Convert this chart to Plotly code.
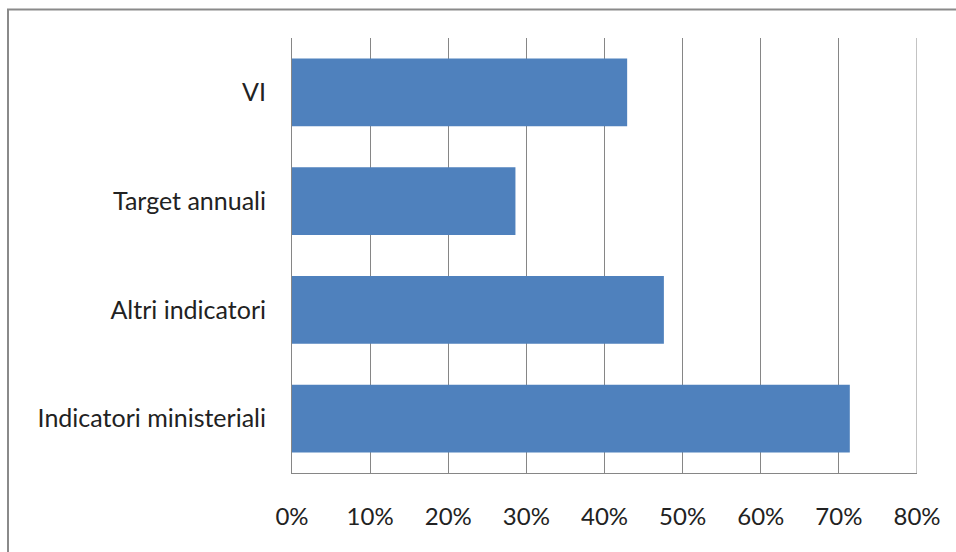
import plotly.graph_objects as go

categories = ["Indicatori ministeriali", "Altri indicatori", "Target annuali", "VI"]
values = [0.714, 0.476, 0.286, 0.429]
tick_vals = [0, 0.1, 0.2, 0.3, 0.4, 0.5, 0.6, 0.7, 0.8]
tick_text = ["0%", "10%", "20%", "30%", "40%", "50%", "60%", "70%", "80%"]

BAR = "#4F81BD"
GRID = "#868686"
FONT = dict(family="Lato, 'Open Sans', sans-serif", size=24, color="#222222")
YFONT = dict(family="Lato, 'Open Sans', sans-serif", size=25, color="#222222")

fig = go.Figure(
    go.Bar(
        x=values,
        y=categories,
        orientation="h",
        marker=dict(color=BAR, line=dict(width=0)),
        hoverinfo="skip",
    )
)

fig.update_layout(
    width=956,
    height=552,
    margin=dict(l=292, r=39, t=38, b=79),
    paper_bgcolor="white",
    plot_bgcolor="white",
    bargap=0.375,
    showlegend=False,
    font=FONT,
)

fig.update_xaxes(
    range=[0, tick_vals[-1]],
    tickvals=tick_vals,
    ticktext=tick_text,
    showgrid=True,
    gridcolor=GRID,
    gridwidth=1,
    showline=True,
    linecolor=GRID,
    linewidth=1,
    zeroline=False,
    ticks="",
    ticklabelstandoff=22,
    tickfont=FONT,
)

fig.update_yaxes(
    categoryorder="array",
    categoryarray=categories,
    showgrid=False,
    showline=True,
    linecolor=GRID,
    linewidth=1,
    ticks="",
    ticklabelstandoff=20,
    tickfont=YFONT,
)

# gridline at the last tick (plotly drops it at the plot edge)
fig.add_shape(
    type="line",
    xref="x",
    yref="paper",
    x0=tick_vals[-1],
    x1=tick_vals[-1],
    y0=0,
    y1=1,
    line=dict(color=GRID, width=1),
    layer="below",
)

# outer chart border (top/left visible, right/bottom run off the page)
fig.add_shape(
    type="rect",
    xref="paper",
    yref="paper",
    x0=(8 - 292) / 625,
    x1=2.0,
    y0=-1.0,
    y1=(473 - 9.5) / 435,
    line=dict(color="#8a8a8a", width=2),
    fillcolor="rgba(0,0,0,0)",
    layer="below",
)

fig.write_html("out.html")
